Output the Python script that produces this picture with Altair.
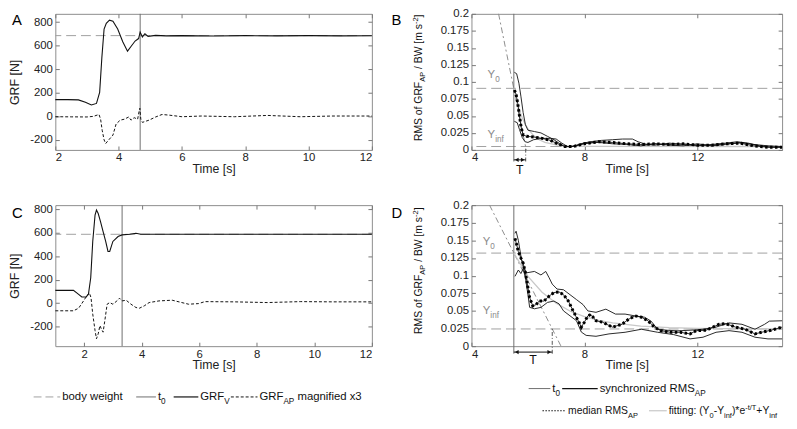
import altair as alt
import pandas as pd

# ------------------------------------------------------------------ data
# Panel A : GRF during sit-to-stand, subject 1
a_t_v = [2.0, 2.4, 2.73, 2.95, 3.14, 3.30, 3.40, 3.47, 3.54, 3.61, 3.71, 3.82, 3.97, 4.13, 4.28, 4.39,
         4.52, 4.63, 4.68, 4.75, 4.83, 4.93, 5.17, 5.5, 6.0, 7.0, 8.0, 9.0, 10.0, 11.0, 12.0]
a_grf_v = [142, 142, 140, 120, 97, 110, 204, 500, 742, 790, 817, 809, 742, 634, 554, 594,
           640, 661, 715, 675, 702, 680, 688, 684, 686, 683, 686, 684, 686, 684, 685]
a_t_ap = [2.0, 2.5, 3.0, 3.2, 3.38, 3.43, 3.48, 3.54, 3.59, 3.69, 3.82, 3.92, 4.05, 4.18, 4.32, 4.39,
          4.49, 4.6, 4.65, 4.67, 4.7, 4.75, 4.96, 5.17, 5.37, 5.58, 6.0, 6.62, 7.66, 8.7, 9.74, 10.77, 12.0]
a_grf_ap = [-3, -4, -5, 0, 16, -24, -118, -199, -231, -199, -159, -65, -32, -24, -5, -32,
            -11, -24, 48, 69, -24, -51, -32, -5, 16, 11, -3, 3, -3, 8, -3, 3, 3]
a_body_weight = 686
a_t0 = 4.68

# Panel C : GRF, subject 2
c_t_v = [1.0, 1.63, 1.81, 1.92, 2.07, 2.15, 2.23, 2.30, 2.38, 2.43, 2.49, 2.57, 2.66, 2.75, 2.83, 2.89,
         3.0, 3.18, 3.32, 3.58, 3.8, 3.97, 5.0, 7.0, 9.0, 12.0]
c_grf_v = [109, 109, 75, 53, 53, 75, 216, 525, 749, 792, 763, 693, 609, 525, 440, 440,
           525, 567, 581, 586, 595, 586, 586, 586, 586, 586]
c_t_ap = [1.0, 1.63, 1.81, 1.98, 2.09, 2.18, 2.24, 2.30, 2.38, 2.43, 2.49, 2.55, 2.60, 2.66, 2.72, 2.80,
          2.89, 3.0, 3.14, 3.23, 3.32, 3.46, 3.63, 3.8, 3.92, 4.09, 4.26, 4.6, 5.06, 5.63, 5.97, 6.2,
          7.23, 8.37, 9.51, 10.65, 12.0]
c_grf_ap = [-65, -65, -43, 19, 61, 89, 47, -93, -233, -303, -261, -191, -219, -247, -149, -9,
            5, -9, 19, 42, 19, 25, -9, -37, -43, -23, 5, 19, 25, -9, -4, 13,
            11, 5, 13, 11, 11]
c_body_weight = 586
c_t0 = 3.32

# Panel B : RMS of GRF_AP / BW, subject 1
b_t_hi = [5.52, 5.6, 5.68, 5.75, 5.83, 5.91, 6.0, 6.23, 6.46, 6.69, 6.92, 7.1, 7.26, 7.5, 7.86, 8.2, 8.6,
          9.0, 9.35, 9.7, 9.9, 10.2, 10.5, 11.0, 11.5, 12.0, 12.5, 13.0, 13.4, 13.8, 14.2, 14.6, 15.0]
b_hi = [0.114, 0.112, 0.098, 0.079, 0.055, 0.037, 0.029, 0.027, 0.025, 0.02, 0.015, 0.010, 0.006, 0.004,
        0.009, 0.012, 0.014, 0.015, 0.016, 0.016, 0.012, 0.008, 0.007, 0.010, 0.008, 0.006, 0.008, 0.010,
        0.012, 0.010, 0.006, 0.004, 0.004]
b_t_med = [5.52, 5.58, 5.64, 5.7, 5.76, 5.83, 5.95, 6.2, 6.5, 6.8, 7.0, 7.3, 7.6, 8.0, 8.5, 9.0, 9.5,
           10.0, 10.5, 11.0, 11.5, 12.0, 12.5, 13.0, 13.5, 14.0, 14.5, 15.0]
b_med = [0.088, 0.082, 0.068, 0.05, 0.033, 0.022, 0.02, 0.019, 0.017, 0.014, 0.01, 0.005, 0.005, 0.009,
         0.012, 0.011, 0.009, 0.008, 0.009, 0.008, 0.009, 0.007, 0.007, 0.009, 0.010, 0.006, 0.004, 0.004]
b_t_lo = [5.52, 5.62, 5.7, 5.8, 5.9, 6.0, 6.2, 6.5, 6.8, 7.0, 7.2, 7.4, 7.7, 8.0, 8.5, 9.0, 9.5,
          10.0, 10.5, 11.0, 11.5, 12.0, 12.5, 13.0, 13.5, 14.0, 14.5, 15.0]
b_lo = [0.042, 0.04, 0.03, 0.018, 0.012, 0.011, 0.015, 0.017, 0.017, 0.016, 0.01, 0.005, 0.006, 0.010,
        0.011, 0.009, 0.008, 0.006, 0.009, 0.007, 0.006, 0.009, 0.006, 0.008, 0.011, 0.008, 0.006, 0.005]
b_t_fit = [5.5, 5.6, 5.7, 5.8, 5.9, 6.0, 6.2, 6.4, 6.6, 7.0, 7.5, 8.0, 15.0]
b_fit = [0.0905, 0.072, 0.058, 0.047, 0.038, 0.031, 0.021, 0.015, 0.011, 0.0074, 0.0057, 0.0052, 0.005]
b_t_tangent = [4.96, 5.94]
b_tangent = [0.2, 0.0]
b_y0, b_yinf = 0.0905, 0.005
b_t0, b_t_end = 5.5, 5.92

# Panel D : RMS of GRF_AP / BW, subject 2
d_t_hi = [5.54, 5.58, 5.66, 5.8, 5.95, 6.23, 6.46, 6.63, 6.75, 6.86, 7.03, 7.26, 7.49, 7.72, 7.95, 8.12,
          8.41, 8.76, 9.1, 9.44, 9.78, 10.13, 10.36, 10.59, 10.93, 11.28, 11.74, 12.2, 12.66, 13.12,
          13.58, 14.04, 14.38, 14.55, 15.0]
d_hi = [0.16, 0.163, 0.15, 0.116, 0.104, 0.106, 0.101, 0.106, 0.097, 0.088, 0.081, 0.08, 0.073, 0.066,
        0.059, 0.05, 0.048, 0.0525, 0.0455, 0.0455, 0.043, 0.041, 0.0355, 0.024, 0.0226, 0.0217, 0.0226,
        0.024, 0.027, 0.033, 0.031, 0.024, 0.031, 0.0355, 0.036]
d_t_med = [5.54, 5.6, 5.66, 5.75, 5.83, 5.91, 6.0, 6.06, 6.17, 6.29, 6.4, 6.57, 6.75, 6.92, 7.1, 7.26,
           7.43, 7.6, 7.78, 7.89, 8.0, 8.12, 8.23, 8.41, 8.64, 8.99, 9.33, 9.56, 9.79, 10.02, 10.25,
           10.48, 10.7, 11.05, 11.39, 11.74, 11.96, 12.31, 12.77, 13.0, 13.35, 13.69, 14.04, 14.27,
           14.61, 15.0]
d_med = [0.153, 0.144, 0.134, 0.125, 0.118, 0.104, 0.083, 0.069, 0.057, 0.059, 0.064, 0.064, 0.071, 0.076,
         0.077, 0.073, 0.064, 0.05, 0.036, 0.027, 0.034, 0.043, 0.045, 0.036, 0.034, 0.027, 0.031, 0.038,
         0.043, 0.041, 0.036, 0.027, 0.022, 0.0197, 0.0197, 0.0174, 0.022, 0.0226, 0.031, 0.032, 0.027,
         0.024, 0.0174, 0.0197, 0.0226, 0.027]
d_t_lo = [5.54, 5.66, 5.75, 5.83, 5.91, 6.0, 6.06, 6.23, 6.46, 6.69, 6.92, 7.1, 7.26, 7.49, 7.72, 7.89,
          8.06, 8.41, 8.87, 9.44, 10.02, 10.59, 11.16, 11.74, 12.2, 12.66, 13.12, 13.58, 14.04, 14.5, 15.0]
d_lo = [0.099, 0.108, 0.103, 0.11, 0.097, 0.073, 0.055, 0.053, 0.055, 0.062, 0.064, 0.06, 0.05, 0.043,
        0.036, 0.02, 0.0153, 0.014, 0.0174, 0.0197, 0.024, 0.0197, 0.0164, 0.0103, 0.0127, 0.0197, 0.022,
        0.0197, 0.0127, 0.0103, 0.0103]
d_t_fit = [5.5, 6.0, 6.5, 7.0, 7.5, 8.0, 8.5, 9.0, 10.0, 11.0, 12.0, 13.0, 15.0]
d_fit = [0.132, 0.099, 0.0765, 0.061, 0.0495, 0.042, 0.0365, 0.033, 0.0285, 0.0264, 0.0253, 0.0248, 0.0245]
d_t_tangent = [4.64, 7.17]
d_tangent = [0.2, 0.0]
d_y0, d_yinf = 0.132, 0.0244
d_t0, d_t_end = 5.5, 6.86

# axis ticks
grf_x_ticks = [2, 4, 6, 8, 10, 12]
grf_y_ticks = [-200, 0, 200, 400, 600, 800]
rms_x_ticks = [4, 8, 12]
rms_y_ticks = [0, 0.025, 0.05, 0.075, 0.1, 0.125, 0.15, 0.175, 0.2]

# ------------------------------------------------------------------ helpers
FONT = "Liberation Sans"
BLACK = "#111111"
GREY_T0 = "#6e6e6e"
GREY_DASH = "#a0a0a0"
GREY_FIT = "#c8c8c8"

_AW = {}
for chars, w in [(" !,./:[]", 278), ("()", 333), ("-", 333), ("*", 389), ("+", 584), ("0123456789", 556),
                 ("ABEKPSVXY", 667), ("CDHNRUw", 722), ("F", 611), ("TZ", 611), ("GOQ", 778), ("I", 278),
                 ("J", 500), ("L", 556), ("M", 833), ("W", 944), ("abdeghnopqu", 556), ("cksvxyz", 500),
                 ("ft", 278), ("ijl", 222), ("m", 833), ("r", 333)]:
    for ch in chars:
        _AW[ch] = w


def tw(s, size):
    return sum(_AW.get(ch, 556) for ch in s) * size / 1000.0


def split_lead(s, fs):
    """SVG drops leading blanks: return the stripped text and the width of the blanks."""
    lead = len(s) - len(s.lstrip(" "))
    return s.lstrip(" "), tw(" " * lead, fs)


ONE = pd.DataFrame({"k": [0]})


def ptext(s, x, y, size, color=BLACK, angle=0, align="left", baseline="alphabetic"):
    return alt.Chart(ONE).mark_text(text=s, font=FONT, fontSize=size, color=color, align=align,
                                    baseline=baseline, angle=angle).encode(x=alt.value(x), y=alt.value(y))


def small(size):
    return round(size * 0.72, 2)


def rich_px(pieces, x, y, size, color=BLACK):
    out, cur = [], x
    for s, k in pieces:
        fs = size if k == "n" else small(size)
        dy = 0 if k == "n" else (size * 0.32 if k == "b" else -size * 0.42)
        s, lead = split_lead(s, fs)
        cur += lead
        out.append(ptext(s, cur, y + dy, fs, color))
        cur += tw(s, fs)
    return out


def rich_vert(pieces, x, ycenter, size, color=BLACK):
    total = sum(tw(s, size if k == "n" else small(size)) for s, k in pieces)
    out, cur = [], ycenter + total / 2
    for s, k in pieces:
        fs = size if k == "n" else small(size)
        dx = 0 if k == "n" else (size * 0.32 if k == "b" else -size * 0.42)
        s, lead = split_lead(s, fs)
        cur -= lead
        out.append(ptext(s, x + dx, cur, fs, color, angle=270))
        cur -= tw(s, fs)
    return out


def rich_data(pieces, t, v, xs, ys, size, color):
    df = pd.DataFrame({"t": [t], "v": [v]})
    out, cur = [], 0.0
    for s, k in pieces:
        fs = size if k == "n" else small(size)
        dy = 0 if k == "n" else size * 0.32
        out.append(alt.Chart(df).mark_text(text=s, font=FONT, fontSize=fs, color=color, align="left",
                                           baseline="alphabetic", dx=cur, dy=dy).encode(
            x=alt.X("t:Q", scale=xs, axis=None), y=alt.Y("v:Q", scale=ys, axis=None)))
        cur += tw(s, fs)
    return out


def sample(x1, x2, y, color, width=1.0, dash=None):
    kw = dict(color=color, strokeWidth=width)
    if dash:
        kw["strokeDash"] = dash
    return alt.Chart(ONE).mark_rule(**kw).encode(x=alt.value(x1), x2=alt.value(x2), y=alt.value(y))


def line(ts, vs, xs, ys, color=BLACK, width=1.0, dash=None):
    kw = dict(color=color, strokeWidth=width)
    if dash:
        kw["strokeDash"] = dash
    df = pd.DataFrame({"t": ts, "v": vs})
    return alt.Chart(df).mark_line(**kw).encode(x=alt.X("t:Q", scale=xs, axis=None),
                                                y=alt.Y("v:Q", scale=ys, axis=None))


def hrule(v, ys, color, dash=None, width=1.0):
    kw = dict(color=color, strokeWidth=width)
    if dash:
        kw["strokeDash"] = dash
    return alt.Chart(pd.DataFrame({"v": [v]})).mark_rule(**kw).encode(y=alt.Y("v:Q", scale=ys, axis=None))


def vrule(t, xs, color, v1=None, v2=None, ys=None, dash=None, width=1.0):
    kw = dict(color=color, strokeWidth=width)
    if dash:
        kw["strokeDash"] = dash
    if v1 is None:
        return alt.Chart(pd.DataFrame({"t": [t]})).mark_rule(**kw).encode(x=alt.X("t:Q", scale=xs, axis=None))
    df = pd.DataFrame({"t": [t], "v1": [v1], "v2": [v2]})
    return alt.Chart(df).mark_rule(**kw).encode(x=alt.X("t:Q", scale=xs, axis=None),
                                                y=alt.Y("v1:Q", scale=ys, axis=None), y2="v2:Q")


def axes(xs, ys, xd, yd, xticks, yticks, h, ytitle=None, ytitle_x=-44, yfmt=None, ylabel_expr=None):
    df = pd.DataFrame({"t": [xd[0]], "v": [yd[0]]})
    yax = dict(orient="left", values=yticks, offset=-4, tickSize=4, domain=False, labelPadding=3)
    if yfmt:
        yax["format"] = yfmt
    if ylabel_expr:
        yax["labelExpr"] = ylabel_expr
    if ytitle:
        yax.update(title=ytitle, titleAngle=270, titleAlign="center", titleBaseline="middle",
                   titleX=ytitle_x, titleY=h / 2)
    else:
        yax["title"] = None
    main = alt.Chart(df).mark_point(opacity=0).encode(
        x=alt.X("t:Q", scale=xs, axis=alt.Axis(orient="bottom", values=xticks, offset=-4, tickSize=4,
                                               domain=False, labelPadding=2, title="Time [s]",
                                               titleBaseline="middle", titleY=23)),
        y=alt.Y("v:Q", scale=ys, axis=alt.Axis(**yax)))
    box = alt.Chart(df).mark_point(opacity=0).encode(
        x=alt.X("t:Q", scale=xs, axis=alt.Axis(orient="top", values=xticks, offset=-4, tickSize=4,
                                               domain=False, labels=False, title=None)),
        y=alt.Y("v:Q", scale=ys, axis=alt.Axis(orient="right", values=yticks, offset=-4, tickSize=4,
                                               domain=False, labels=False, title=None)))
    return [main, box]


def scale(d):
    return alt.Scale(domain=d, nice=False, zero=False)


MINUS_FIX = "replace(datum.label, '\u2212', '-')"
W1, W2 = 321, 315
H1, H2 = 138, 143


def grf_panel(letter, xd, yd, t_v, v, t_ap, ap, bw, t0, h, extra=()):
    xs, ys = scale(xd), scale(yd)
    layers = axes(xs, ys, xd, yd, grf_x_ticks, grf_y_ticks, h, ytitle="GRF [N]", ytitle_x=-45.5,
                  ylabel_expr=MINUS_FIX)
    layers += [
        hrule(bw, ys, GREY_DASH, dash=[10, 5]),
        vrule(t0, xs, GREY_T0),
        line(t_ap, ap, xs, ys, BLACK, 1.0, dash=[3, 2]),
        line(t_v, v, xs, ys, BLACK, 1.1),
        ptext(letter, -44, 6 if letter == "A" else 8, 15, "#000", baseline="middle"),
    ]
    layers += list(extra)
    return alt.layer(*layers).resolve_axis(x="independent", y="independent").properties(width=W1, height=h)


def rms_panel(letter, hi, med, lo, fit, tangent, y0, yinf, t0, t_end, v_t0_low, v_arrow, v_T,
              y0_pos, yinf_pos, h, title_frac, extra=()):
    xd, yd = [4, 15], [0, 0.2]
    xs, ys = scale(xd), scale(yd)
    layers = axes(xs, ys, xd, yd, rms_x_ticks, rms_y_ticks, h, yfmt=".3~g")
    layers += [
        hrule(y0, ys, GREY_DASH, dash=[10, 5]),
        hrule(yinf, ys, GREY_DASH, dash=[10, 5]),
        line(tangent[0], tangent[1], xs, ys, "#8c8c8c", 1.0, dash=[6, 3, 2, 3]),
        vrule(t0, xs, GREY_T0, v1=v_t0_low, v2=0.2, ys=ys),
        vrule(t_end, xs, "#555555", v1=v_t0_low, v2=yinf, ys=ys, dash=[4, 2, 1, 2]),
        line(fit[0], fit[1], xs, ys, GREY_FIT, 1.3),
        line(lo[0], lo[1], xs, ys, BLACK, 0.9),
        line(hi[0], hi[1], xs, ys, BLACK, 0.9),
        line(med[0], med[1], xs, ys, BLACK, 0.9),
        line(med[0], med[1], xs, ys, "#000000", 3.0, dash=[2.5, 2.5]),
        line([t0, t_end], [v_arrow, v_arrow], xs, ys, BLACK, 1.0),
        alt.Chart(pd.DataFrame({"t": [t0], "v": [v_arrow]})).mark_point(
            shape="triangle-left", filled=True, size=18, color=BLACK, opacity=1, xOffset=3).encode(
            x=alt.X("t:Q", scale=xs, axis=None), y=alt.Y("v:Q", scale=ys, axis=None)),
        alt.Chart(pd.DataFrame({"t": [t_end], "v": [v_arrow]})).mark_point(
            shape="triangle-right", filled=True, size=18, color=BLACK, opacity=1, xOffset=-3).encode(
            x=alt.X("t:Q", scale=xs, axis=None), y=alt.Y("v:Q", scale=ys, axis=None)),
        alt.Chart(pd.DataFrame({"t": [(t0 + t_end) / 2], "v": [v_T]})).mark_text(
            text="T", font=FONT, fontSize=12.5, color=BLACK, baseline="middle", align="center").encode(
            x=alt.X("t:Q", scale=xs, axis=None), y=alt.Y("v:Q", scale=ys, axis=None)),
        ptext(letter, -81, 6 if letter == "B" else 8, 15, "#000", baseline="middle"),
    ]
    layers += rich_data([("Y", "n"), ("0", "b")], y0_pos[0], y0_pos[1], xs, ys, 11.5, "#8a8a8a")
    layers += rich_data([("Y", "n"), ("inf", "b")], yinf_pos[0], yinf_pos[1], xs, ys, 11.5, "#8a8a8a")
    layers += rich_vert([("RMS of GRF", "n"), ("AP", "b"), (" / BW [m s", "n"), ("-2", "p"), ("]", "n")],
                        -50, h * title_frac, 10.5)
    layers += list(extra)
    return alt.layer(*layers).resolve_axis(x="independent", y="independent").properties(width=W2, height=h)


# ------------------------------------------------------------------ legends
LS = 11.5
legend_left = [
    sample(-22, 5, 194.5, GREY_DASH, 1.0, [8, 4]),
    *rich_px([("body weight", "n")], 7, 198, LS),
    sample(82, 102, 194.5, GREY_T0),
    *rich_px([("t", "n"), ("0", "b")], 104, 198, LS),
    sample(120, 145, 194.5, BLACK, 1.2),
    *rich_px([("GRF", "n"), ("V", "b")], 147, 198, LS),
    sample(178, 205, 194.5, BLACK, 1.0, [3, 2]),
    *rich_px([("GRF", "n"), ("AP", "b"), (" magnified x3", "n")], 207, 198, LS),
]
legend_right = [
    sample(58, 80, 186, GREY_T0),
    *rich_px([("t", "n"), ("0", "b")], 82, 189.5, LS),
    sample(92, 128, 186, BLACK, 1.2),
    *rich_px([("synchronized RMS", "n"), ("AP", "b")], 130, 189.5, LS),
    sample(72, 96, 208.5, BLACK, 1.2, [1.5, 1.5]),
    *rich_px([("median RMS", "n"), ("AP", "b")], 98, 212, 10.5),
    sample(180, 198, 208.5, GREY_FIT, 1.2),
    *rich_px([("fitting: (Y", "n"), ("0", "b"), ("-Y", "n"), ("inf", "b"), (")*e", "n"), ("-t/T", "p"),
              ("+Y", "n"), ("inf", "b")], 200, 212, 10.5),
]

# ------------------------------------------------------------------ panels
A = grf_panel("A", [2, 12], [-285, 871], a_t_v, a_grf_v, a_t_ap, a_grf_ap, a_body_weight, a_t0, H1)
C = grf_panel("C", [1, 12], [-366, 834], c_t_v, c_grf_v, c_t_ap, c_grf_ap, c_body_weight, c_t0, H2,
              extra=legend_left)
B = rms_panel("B", (b_t_hi, b_hi), (b_t_med, b_med), (b_t_lo, b_lo), (b_t_fit, b_fit),
              (b_t_tangent, b_tangent), b_y0, b_yinf, b_t0, b_t_end, -0.017, -0.0146, -0.03,
              (4.57, 0.105), (4.57, 0.017), H1, 0.47)
D = rms_panel("D", (d_t_hi, d_hi), (d_t_med, d_med), (d_t_lo, d_lo), (d_t_fit, d_fit),
              (d_t_tangent, d_tangent), d_y0, d_yinf, d_t0, d_t_end, -0.0107, -0.0084, -0.019,
              (4.4, 0.143), (4.4, 0.045), H2, 0.465, extra=legend_right)

chart = alt.concat(A, B, C, D, columns=2, spacing={"row": 56, "column": 101}, bounds="flush").properties(
    padding={"left": 0, "top": -4, "right": 0, "bottom": 0}
).configure_view(stroke="#8c8c8c", strokeWidth=1).configure_axis(
    labelFont=FONT, labelFontSize=11.5, labelColor="#222222", titleFont=FONT, titleFontSize=12.5,
    titleFontWeight="normal", titleColor="#222222", tickColor="#777777", tickWidth=1, grid=False
)

chart.save("out.html", embed_options={"renderer": "svg", "actions": False})
